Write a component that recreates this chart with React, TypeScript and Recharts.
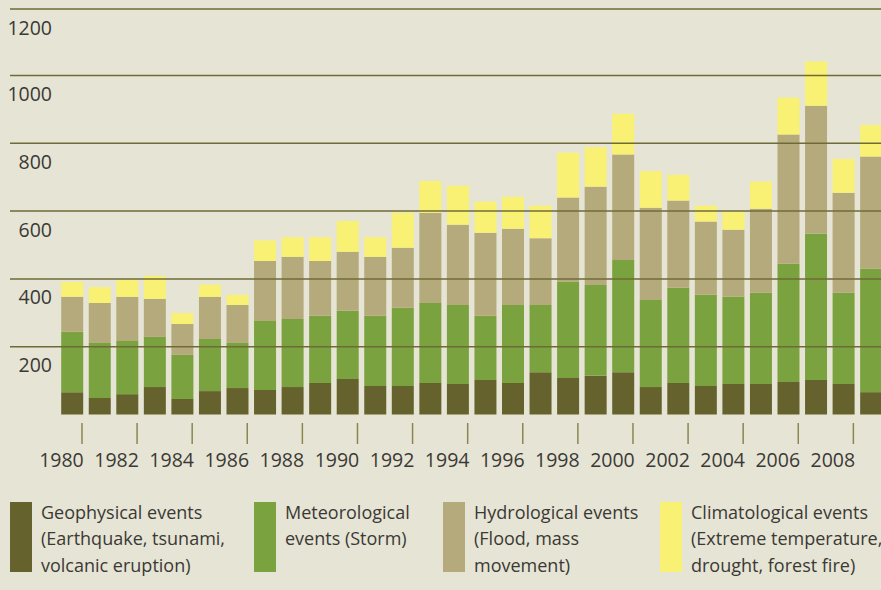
import { BarChart, Bar, XAxis, YAxis } from "recharts";

const years = [
  1980, 1981, 1982, 1983, 1984, 1985, 1986, 1987, 1988, 1989, 1990, 1991, 1992, 1993, 1994,
  1995, 1996, 1997, 1998, 1999, 2000, 2001, 2002, 2003, 2004, 2005, 2006, 2007, 2008, 2009,
];
const geophysical = [
  66, 49, 60, 81, 46, 69, 78, 72, 81, 93, 105, 84, 84, 93, 90,
  102, 93, 125, 108, 114, 125, 81, 93, 84, 90, 90, 96, 102, 90, 66,
];
const meteorological = [
  178, 162, 157, 148, 130, 154, 133, 204, 201, 198, 201, 207, 231, 236, 233,
  189, 230, 198, 284, 268, 331, 257, 281, 269, 257, 269, 349, 431, 269, 364,
];
const hydrological = [
  103, 118, 130, 112, 91, 124, 112, 177, 183, 162, 174, 174, 177, 266, 237,
  245, 225, 197, 248, 290, 311, 272, 257, 216, 198, 248, 381, 378, 295, 331,
];
const climatological = [
  44, 47, 50, 68, 32, 36, 30, 60, 58, 70, 91, 58, 103, 94, 115,
  92, 94, 96, 132, 117, 120, 108, 76, 47, 53, 80, 109, 130, 100, 93,
];
const yTicks = [200, 400, 600, 800, 1000, 1200];

const series = [
  { key: "geo", color: "#66622e", label: ["Geophysical events", "(Earthquake, tsunami,", "volcanic eruption)"] },
  { key: "met", color: "#7aa23e", label: ["Meteorological", "events (Storm)"] },
  { key: "hyd", color: "#b4aa7c", label: ["Hydrological events", "(Flood, mass", "movement)"] },
  { key: "cli", color: "#f9f173", label: ["Climatological events", "(Extreme temperature,", "drought, forest fire)"] },
];
const legendX = [10, 254, 443, 660];

const data = years.map((y, i) => ({
  year: y,
  geo: geophysical[i],
  met: meteorological[i],
  hyd: hydrological[i],
  cli: climatological[i],
}));

const FONT = "'Open Sans', sans-serif";
const TEXT = "#3a3935";

function YTick(props: any) {
  const { y, payload } = props;
  return (
    <g>
      <line x1={10} x2={900} y1={y} y2={y} stroke="#6f6b38" strokeWidth={1.5} />
      <text x={52} y={y + 25.5} textAnchor="end" fontSize={19.5} fill={TEXT} fontFamily={FONT}>
        {payload.value}
      </text>
    </g>
  );
}

function XTick(props: any) {
  const { x, payload } = props;
  if (payload.value % 2 !== 0) return <g />;
  return (
    <g>
      <line x1={x + 10} x2={x + 10} y1={423} y2={444} stroke="#8a8650" strokeWidth={1.5} />
      <text x={x - 10.5} y={467} textAnchor="middle" fontSize={19.5} fill={TEXT} fontFamily={FONT}>
        {payload.value}
      </text>
    </g>
  );
}

export default function App() {
  return (
    <div
      style={{
        position: "absolute",
        left: 0,
        top: 0,
        width: 881,
        height: 590,
        overflow: "hidden",
        background: "#e6e4d4",
        fontFamily: FONT,
      }}
    >
      <BarChart
        width={890}
        height={590}
        data={data}
        margin={{ top: 7.7, right: 5.3, left: 0, bottom: 0 }}
        barSize={22}
      >
        {series.map((s) => (
          <Bar key={s.key} dataKey={s.key} stackId="a" fill={s.color} isAnimationActive={false} />
        ))}
        <XAxis
          dataKey="year"
          height={175.5}
          axisLine={false}
          tickLine={false}
          interval={0}
          tick={<XTick />}
        />
        <YAxis
          width={58.2}
          domain={[0, 1200]}
          ticks={yTicks}
          axisLine={false}
          tickLine={false}
          tick={<YTick />}
        />
      </BarChart>
      {series.map((s, i) => (
        <div key={s.key} style={{ position: "absolute", left: legendX[i], top: 502 }}>
          <div style={{ position: "absolute", left: 0, top: 0, width: 22, height: 70, background: s.color }} />
          <div
            style={{
              position: "absolute",
              left: 31,
              top: -3.5,
              fontSize: 18,
              lineHeight: "26.5px",
              color: TEXT,
              whiteSpace: "nowrap",
            }}
          >
            {s.label.map((l) => (
              <div key={l}>{l}</div>
            ))}
          </div>
        </div>
      ))}
    </div>
  );
}
